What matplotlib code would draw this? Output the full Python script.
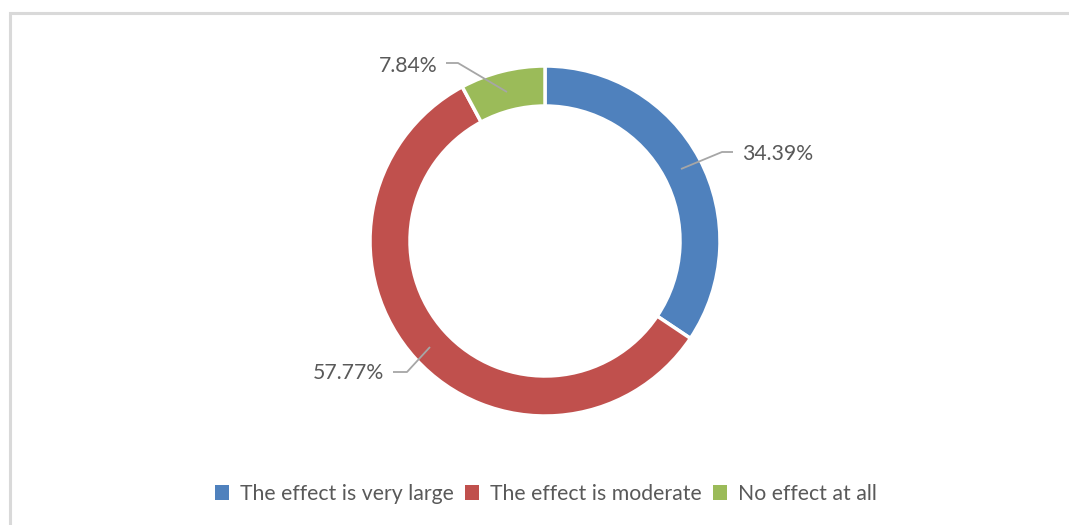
import matplotlib.pyplot as plt
from matplotlib.patches import Rectangle, Patch

# --- DATA ---
categories = ['The effect is very large', 'The effect is moderate', 'No effect at all']
shares = [34.39, 57.77, 7.84]
colors = ['#4f81bd', '#c0504d', '#9bbb59']

TEXT_COLOR = '#595959'
LINE_COLOR = '#a6a6a6'
plt.rcParams['font.family'] = ['Lato', 'DejaVu Sans']

W, H = 1069, 525
fig = plt.figure(figsize=(W / 100, H / 100), dpi=100)

# chart area border (light gray frame running off the right and bottom)
fig.patches.append(Rectangle((9.5 / W, -0.05), 1.1, 1 - 12.5 / H + 0.05,
                             transform=fig.transFigure, fill=False,
                             edgecolor='#d9d9d9', linewidth=2.2))

# --- DONUT --- axes in pixel units centred on the ring
cx, cy, half = 545, 241, 260
ax = fig.add_axes([(cx - half) / W, (H - cy - half) / H, 2 * half / W, 2 * half / H])
R, ring = 175, 40
ax.pie(shares, colors=colors, startangle=90, counterclock=False, radius=R,
       wedgeprops=dict(width=ring, edgecolor='white', linewidth=2.5))
ax.set_xlim(-half, half)
ax.set_ylim(-half, half)
ax.set_aspect('equal')
ax.axis('off')

# data labels with leader lines (pixel offsets from centre, y up)
labels = [f'{v:.2f}%' for v in shares]
leaders = [
    [(136, 72), (177, 89), (188, 89)],
    [(-115, -106), (-138, -131), (-152, -131)],
    [(-38, 149), (-87, 178), (-99, 178)],
]
text_pos = [(197, 87, 'left'), (-161, -132, 'right'), (-107, 175, 'right')]

for lab, pts, (tx, ty, ha) in zip(labels, leaders, text_pos):
    xs, ys = zip(*pts)
    ax.plot(xs, ys, color=LINE_COLOR, linewidth=1.3, solid_capstyle='butt')
    ax.text(tx, ty, lab, ha=ha, va='center', fontsize=15.3, color=TEXT_COLOR)

# --- LEGEND ---
handles = [Patch(facecolor=c, edgecolor='none') for c in colors]
fig.legend(handles, categories, loc='center', bbox_to_anchor=(546 / W, 1 - 494 / H),
           ncol=3, frameon=False, fontsize=15.3, labelcolor=TEXT_COLOR,
           handlelength=0.65, handleheight=0.65, handletextpad=0.55,
           columnspacing=0.5)

fig.savefig('out.png', dpi=100)
